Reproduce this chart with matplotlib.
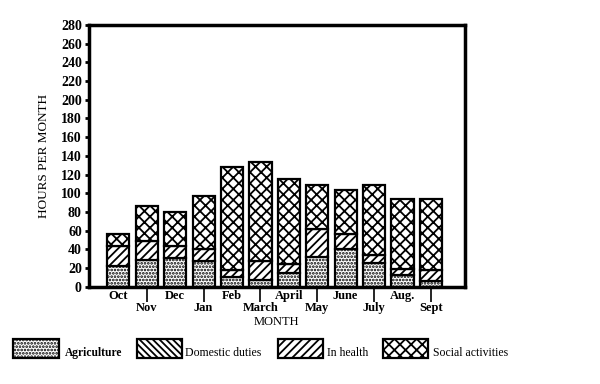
import matplotlib
matplotlib.use("Agg")
import matplotlib.pyplot as plt
from matplotlib.patches import Rectangle
import numpy as np

months = ["Oct", "Nov", "Dec", "Jan", "Feb", "March", "April", "May", "June", "July", "Aug.", "Sept"]
agriculture = [22, 29, 31, 28, 10, 7, 15, 32, 40, 26, 13, 6]
domestic = [0, 0, 0, 0, 0, 0, 0, 0, 0, 0, 0, 0]
health = [22, 20, 13, 12, 8, 21, 9, 30, 17, 8, 6, 12]
social = [12, 37.5, 36, 57, 110, 105, 91.5, 46.5, 47, 75, 75, 76]
series_names = ["Agriculture", "Domestic duties", "In health", "Social activities"]

plt.rcParams["font.family"] = ["Liberation Serif", "DejaVu Serif"]
plt.rcParams["hatch.linewidth"] = 1.3

fig = plt.figure(figsize=(6, 3.84), dpi=100)
ax = fig.add_axes([0.148, 0.253, 0.627, 0.682])

x = np.arange(len(months))
w = 0.78
hatches = [".....", "\\\\\\\\\\", "////", "xxx"]
bottom = np.zeros(len(months))
for vals, h in zip([agriculture, domestic, health, social], hatches):
    vals = np.array(vals, dtype=float)
    mask = vals > 0
    if mask.any():
        ax.bar(x[mask], vals[mask], w, bottom=bottom[mask], color="white",
               edgecolor="black", hatch=h, linewidth=1.6)
    bottom += vals

ax.set_ylim(0, 280)
ax.set_xlim(-1.04, 12.2)
ax.set_yticks(np.arange(0, 281, 20))
ax.tick_params(axis="y", direction="out", length=3, width=2, labelsize=10, pad=2)
for t in ax.get_yticklabels():
    t.set_fontweight("bold")

ax.set_xticks(x[0::2])
ax.set_xticklabels(months[0::2], fontsize=9, fontweight="bold")
ax.set_xticks(x[1::2], minor=True)
ax.set_xticklabels(months[1::2], minor=True, fontsize=9, fontweight="bold")
ax.tick_params(axis="x", which="major", length=0, pad=2)
ax.tick_params(axis="x", which="minor", direction="out", length=11, width=1.2, pad=0)

for s in ax.spines.values():
    s.set_linewidth(2.5)

ax.set_ylabel("HOURS PER MONTH", fontsize=9.5, labelpad=8)
ax.set_xlabel("MONTH", fontsize=9, labelpad=1)

# legend
boxes = [(13, 59), (137, 182), (278, 323), (383, 428)]
label_x = [65, 185, 327, 433]
weights = ["bold", "normal", "normal", "normal"]
sizes = [8.3, 8.5, 8.5, 8.5]
W, H = 600, 384
for (x0, x1), lx, name, h, fw, fs in zip(boxes, label_x, series_names, hatches, weights, sizes):
    r = Rectangle((x0 / W, 1 - 358 / H), (x1 - x0) / W, 19 / H, transform=fig.transFigure,
                  facecolor="white", edgecolor="black", hatch=h, linewidth=1.6)
    fig.patches.append(r)
    fig.text(lx / W, 1 - 353 / H, name, fontsize=fs, fontweight=fw, va="center", ha="left")

fig.savefig("out.png", dpi=100)
